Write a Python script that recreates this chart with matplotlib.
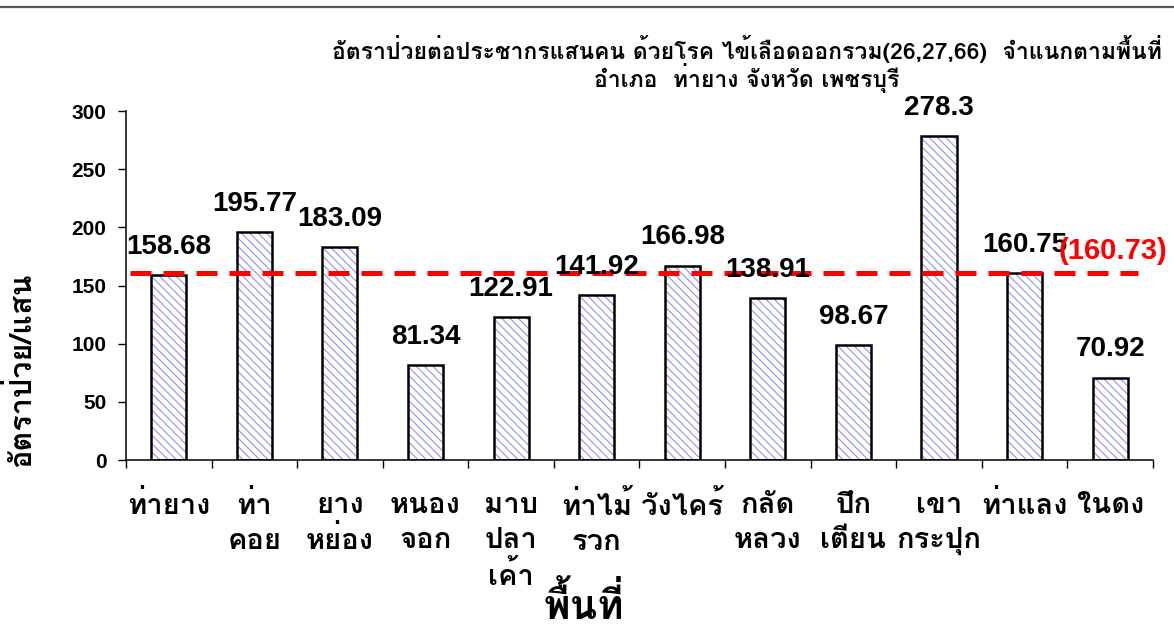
import matplotlib
matplotlib.use("Agg")
import matplotlib.pyplot as plt
from matplotlib.lines import Line2D
from matplotlib import transforms

# data
areas = ["ท่ายาง", "ท่า\nคอย", "ยาง\nหย่อง", "หนอง\nจอก", "มาบ\nปลา\nเค้า",
         "ท่าไม้\nรวก", "วังไคร้", "กลัด\nหลวง", "ปึก\nเตียน", "เขา\nกระปุก",
         "ท่าแลง", "ในดง"]
rates = [158.68, 195.77, 183.09, 81.34, 122.91, 141.92, 166.98, 138.91,
         98.67, 278.3, 160.75, 70.92]
district_rate = 160.73
y_ticks = [0, 50, 100, 150, 200, 250, 300]

title = ("อัตราป่วยต่อประชากรแสนคน ด้วยโรค ไข้เลือดออกรวม(26,27,66)  จำแนกตามพื้นที่\n"
         "อำเภอ  ท่ายาง จังหวัด เพชรบุรี")
ylabel = "อัตราป่วย/แสน"
xlabel = "พื้นที่"

THAI = ["Loma", "DejaVu Sans"]
NUM = ["Liberation Sans", "DejaVu Sans"]

plt.rcParams["hatch.linewidth"] = 0.8

fig = plt.figure(figsize=(11.74, 6.33), dpi=100)
ax = fig.add_axes([0.1073, 0.2733, 0.8748, 0.5513])

x = list(range(len(rates)))
ax.bar(x, rates, width=0.41, color="white", edgecolor="#9090f5",
       linewidth=0, hatch="\\\\\\\\", zorder=2)
ax.bar(x, rates, width=0.41, fill=False, edgecolor="black",
       linewidth=1.8, zorder=3)

for xi, v in zip(x, rates):
    ax.annotate(f"{v:g}", (xi, v), xytext=(0, 11), textcoords="offset points",
                ha="center", va="bottom", fontsize=20, weight="bold",
                family=NUM, zorder=5)

ax.axhline(district_rate, xmin=0.004, xmax=0.985, color="#ff0000",
           linewidth=3.6, dashes=(4.2, 2.4), zorder=4)
trans = transforms.blended_transform_factory(ax.transAxes, ax.transData)
ax.annotate(f"({district_rate:.2f})", (0.908, district_rate), xycoords=trans,
            xytext=(0, 6), textcoords="offset points", ha="left",
            va="bottom", color="#ff0000", fontsize=21, weight="bold",
            family=NUM, annotation_clip=False, zorder=5)

ax.set_xlim(-0.5, len(rates) - 0.5)
ax.set_ylim(0, 300)
ax.set_yticks(y_ticks)
ax.set_yticklabels([str(t) for t in y_ticks], fontsize=15, weight="bold",
                   family=NUM)
ax.tick_params(axis="y", direction="out", length=6, width=1, pad=8)

# category ticks sit between the bars, labels at the bar centres
ax.set_xticks([i - 0.5 for i in range(len(rates) + 1)])
ax.set_xticklabels([])
ax.set_xticks(x, minor=True)
ax.set_xticklabels(areas, minor=True, fontsize=21, weight="bold",
                   family=THAI, linespacing=1.32)
ax.tick_params(axis="x", which="major", direction="out", length=6, width=1)
ax.tick_params(axis="x", which="minor", length=0, pad=22)

for side in ("top", "right"):
    ax.spines[side].set_visible(False)
for side in ("left", "bottom"):
    ax.spines[side].set_linewidth(1.1)

fig.text(0.636, 0.945, title, ha="center", va="top", fontsize=16.5,
         weight="bold", family=THAI, linespacing=1.0)
fig.text(0.018, 0.416, ylabel, rotation=90, ha="center", va="center",
         fontsize=22, weight="bold", family=THAI)
fig.text(0.497, 0.044, xlabel, ha="center", va="center", fontsize=29,
         weight="bold", family=THAI)

fig.add_artist(Line2D([0, 1], [0.989, 0.989], color="#555555", linewidth=1.6))

fig.savefig("out.png", dpi=100)
